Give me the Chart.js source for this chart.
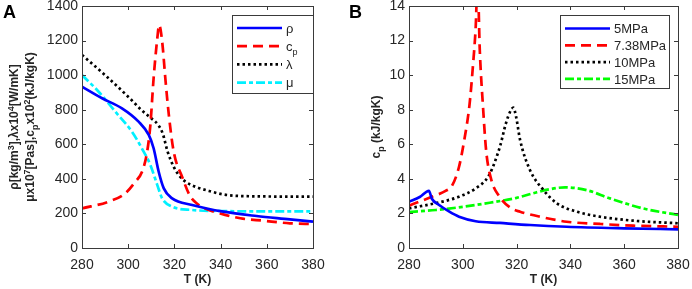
<!DOCTYPE html>
<html><head><meta charset="utf-8">
<script src="https://cdn.jsdelivr.net/npm/chart.js@4.4.1/dist/chart.umd.min.js"></script>
<style>
html,body{margin:0;padding:0;background:#fff;}
#wrap{position:relative;width:692px;height:289px;overflow:hidden;}
canvas{position:absolute;top:0;}
</style></head><body>
<div id="wrap">
<canvas id="a" width="346" height="289" style="left:0"></canvas>
<canvas id="b" width="346" height="289" style="left:346px"></canvas>
</div>
<script>
// ---------- Panel A data ----------
const xTicksA = [280, 300, 320, 340, 360, 380];
const yTicksA = [0, 200, 400, 600, 800, 1000, 1200, 1400];
const rhoT = [280, 288.7, 297.3, 304.5, 308.9, 311, 313.2, 315.4, 319, 327.7, 341.2, 355.6, 370, 380];
const rhoV = [933, 866, 808, 731, 654, 577, 441, 345, 287, 249, 210, 185, 166, 152];
const cpT = [280, 291.5, 298.7, 303.1, 306, 308.2, 309.6, 311, 312.6, 313.4, 314.7, 316.2, 317.6, 319.7, 323.4, 326.8, 330, 332.6, 339.8, 348.5, 358.6, 370, 380];
const cpV = [229, 268, 316, 384, 441, 557, 712, 982, 1213, 1290, 1194, 962, 769, 557, 410, 300, 255, 232, 200, 172, 158, 143, 139];
const lamT = [280, 290, 300, 306, 310, 313, 315, 317, 319.7, 322, 325, 330, 335, 341, 350, 380];
const lamV = [1117, 1000, 875, 795, 750, 712, 660, 560, 470, 420, 382, 350, 330, 310, 300, 297];
const muT = [280, 287.2, 294.4, 301.6, 305.9, 309.6, 312.6, 314.7, 319, 327.6, 340, 360, 380];
const muV = [1001, 904, 789, 673, 577, 480, 364, 287, 239, 220, 214, 212, 212];

// ---------- Panel B data ----------
const xTicksB = [280, 300, 320, 340, 360, 380];
const yTicksB = [0, 2, 4, 6, 8, 10, 12, 14];
const p5T = [280, 284, 287.4, 288.5, 291.2, 295, 298.6, 304.8, 313.8, 325, 338.6, 360, 380];
const p5V = [2.68, 2.95, 3.31, 2.85, 2.49, 2.1, 1.81, 1.55, 1.45, 1.33, 1.23, 1.14, 1.08];
const p738T = [280, 285, 290, 293.6, 296, 298.6, 300.5, 302.5, 303.8, 304.8, 305.5, 306.3, 307.5, 308.7, 310.5, 313.5, 318, 321.3, 328.7, 338.6, 351, 363.4, 380];
const p738V = [2.45, 2.75, 3.05, 3.3, 3.6, 4.7, 6.2, 8.3, 10.6, 12.8, 15.5, 11.5, 8.2, 5.6, 4.0, 3.0, 2.3, 2.1, 1.81, 1.52, 1.39, 1.29, 1.23];
const p10T = [280, 292.4, 298.6, 304.8, 309.7, 313.8, 316, 317.8, 318.8, 319.8, 321.3, 325, 330, 335, 342.4, 351, 363.4, 380];
const p10V = [2.29, 2.68, 2.97, 3.45, 4.2, 5.86, 7.2, 7.95, 8.12, 7.6, 6.25, 4.5, 3.35, 2.58, 2.1, 1.81, 1.58, 1.43];
const p15T = [280, 290, 300, 310, 320, 326, 332, 338, 346, 354.7, 367, 380];
const p15V = [2.08, 2.2, 2.38, 2.62, 2.9, 3.16, 3.39, 3.51, 3.35, 2.87, 2.29, 1.91];

// ---------- helpers ----------
const FONT = '"Liberation Sans", Arial, sans-serif';
const TXT = '#262626';
function pts(T, V) { return T.map((t, i) => ({ x: t, y: V[i] })); }

function drawRich(ctx, segs, cx, cy, size, weight, rot, align) {
  ctx.save();
  ctx.translate(cx, cy);
  if (rot) ctx.rotate(rot);
  const small = Math.round(size * 0.72);
  const f = (m) => weight + ' ' + (m ? small : size) + 'px ' + FONT;
  let w = 0;
  segs.forEach(s => { ctx.font = f(s[1]); w += ctx.measureText(s[0]).width; });
  let x = align === 'left' ? 0 : -w / 2;
  ctx.textBaseline = 'alphabetic';
  ctx.textAlign = 'left';
  ctx.fillStyle = TXT;
  const base = size * 0.36;
  segs.forEach(s => {
    ctx.font = f(s[1]);
    const dy = s[1] === 1 ? -size * 0.4 : (s[1] === -1 ? size * 0.28 : 0);
    ctx.fillText(s[0], x, base + dy);
    x += ctx.measureText(s[0]).width;
  });
  ctx.restore();
}

const decor = {
  id: 'decor',
  afterDraw(chart, args, o) {
    const ctx = chart.ctx, a = chart.chartArea;
    const xs = chart.scales.x, ys = chart.scales.y;
    ctx.save();
    ctx.strokeStyle = '#3a3a3a';
    ctx.lineWidth = 1;
    ctx.setLineDash([]);
    ctx.strokeRect(Math.round(a.left) + 0.5, Math.round(a.top) + 0.5, Math.round(a.right - a.left), Math.round(a.bottom - a.top));
    const L = 4;
    ctx.beginPath();
    xs.ticks.forEach(t => {
      const px = Math.round(xs.getPixelForValue(t.value)) + 0.5;
      ctx.moveTo(px, a.bottom); ctx.lineTo(px, a.bottom - L);
      ctx.moveTo(px, a.top); ctx.lineTo(px, a.top + L);
    });
    ys.ticks.forEach(t => {
      const py = Math.round(ys.getPixelForValue(t.value)) + 0.5;
      ctx.moveTo(a.left, py); ctx.lineTo(a.left + L, py);
      ctx.moveTo(a.right, py); ctx.lineTo(a.right - L, py);
    });
    ctx.stroke();
    ctx.fillStyle = '#000';
    ctx.font = 'bold 18px ' + FONT;
    ctx.textAlign = 'left';
    ctx.textBaseline = 'alphabetic';
    ctx.fillText(o.letter, o.letterX, 18);
    drawRich(ctx, [['T (K)', 0]], (a.left + a.right) / 2, 279, 12, 'bold', 0);
    o.ytitle.forEach(l => drawRich(ctx, l.segs, l.x, (a.top + a.bottom) / 2, 12, 'bold', -Math.PI / 2));
    const lg = o.legend;
    ctx.fillStyle = '#fff';
    ctx.fillRect(lg.x, lg.y, lg.w, lg.h);
    ctx.strokeStyle = '#3a3a3a';
    ctx.lineWidth = 1;
    ctx.setLineDash([]);
    ctx.strokeRect(lg.x + 0.5, lg.y + 0.5, lg.w, lg.h);
    chart.data.datasets.forEach((d, i) => {
      const yy = lg.y + lg.first + i * lg.step;
      ctx.save();
      ctx.strokeStyle = d.borderColor;
      ctx.lineWidth = d.borderWidth;
      ctx.setLineDash(d.borderDash || []);
      ctx.lineCap = 'butt';
      ctx.beginPath();
      ctx.moveTo(lg.x + lg.l0, yy);
      ctx.lineTo(lg.x + lg.l1, yy);
      ctx.stroke();
      ctx.restore();
      drawRich(ctx, lg.labels[i], lg.x + lg.tx, yy, 13, 'normal', 0, 'left');
    });
    ctx.restore();
  }
};

function makeChart(id, datasets, yMax, yStep, pad, yWidth, deco) {
  return new Chart(document.getElementById(id), {
    type: 'line',
    data: { datasets },
    options: {
      responsive: false,
      devicePixelRatio: 1,
      animation: false,
      events: [],
      layout: { padding: pad },
      plugins: { legend: { display: false }, tooltip: { enabled: false }, decor: deco },
      elements: { point: { radius: 0 }, line: { cubicInterpolationMode: 'monotone', borderCapStyle: 'butt' } },
      scales: {
        x: {
          type: 'linear', min: 280, max: 380,
          ticks: { stepSize: 20, color: TXT, font: { family: FONT, size: 14 }, padding: 9, maxRotation: 0, callback: v => String(v) },
          grid: { display: false, drawTicks: false }, border: { display: false },
          afterFit(s) { s.height = 41; s.paddingLeft = 0; s.paddingRight = 0; }
        },
        y: {
          type: 'linear', min: 0, max: yMax,
          ticks: { stepSize: yStep, color: TXT, font: { family: FONT, size: 14 }, padding: 4, callback: v => String(v) },
          grid: { display: false, drawTicks: false }, border: { display: false },
          afterFit(s) { s.width = yWidth; s.paddingTop = 0; s.paddingBottom = 0; }
        }
      }
    },
    plugins: [decor]
  });
}

const W = 2.7;
makeChart('a', [
  { data: pts(rhoT, rhoV), borderColor: '#0000ff', borderWidth: W, clip: 0 },
  { data: pts(cpT, cpV), borderColor: '#ff0000', borderWidth: W, borderDash: [10, 6], clip: 0 },
  { data: pts(lamT, lamV), borderColor: '#000000', borderWidth: W, borderDash: [2.5, 3], clip: 0 },
  { data: pts(muT, muV), borderColor: '#00f0ff', borderWidth: W, borderDash: [9, 3, 4, 3], clip: 0 }
], 1400, 200, { top: 6, right: 33, left: 0, bottom: 0 }, 82, {
  letter: 'A', letterX: 3,
  ytitle: [
    { x: 14, segs: [['ρ[kg/m', 0], ['3', 1], ['],λx10', 0], ['4', 1], ['[W/mK]', 0]] },
    { x: 30, segs: [['μx10', 0], ['7', 1], ['[Pas],c', 0], ['p', -1], ['x10', 0], ['2', 1], ['(kJ/kgK)', 0]] }
  ],
  legend: { x: 232, y: 15, w: 81, h: 78, first: 13, step: 18.2, l0: 5, l1: 50, tx: 54,
    labels: [[['ρ', 0]], [['c', 0], ['p', -1]], [['λ', 0]], [['μ', 0]]] }
});

makeChart('b', [
  { data: pts(p5T, p5V), borderColor: '#0000ff', borderWidth: W, clip: 0 },
  { data: pts(p738T, p738V), borderColor: '#ff0000', borderWidth: W, borderDash: [10, 6], clip: 0 },
  { data: pts(p10T, p10V), borderColor: '#000000', borderWidth: W, borderDash: [2.5, 3], clip: 0 },
  { data: pts(p15T, p15V), borderColor: '#00ff00', borderWidth: W, borderDash: [9, 3, 4, 3], clip: 0 }
], 14, 2, { top: 6, right: 14, left: 0, bottom: 0 }, 63, {
  letter: 'B', letterX: 3,
  ytitle: [
    { x: 30, segs: [['c', 0], ['p', -1], [' (kJ/kgK)', 0]] }
  ],
  legend: { x: 214, y: 15, w: 109, h: 73, first: 13.5, step: 16.8, l0: 5, l1: 50, tx: 54,
    labels: [[['5MPa', 0]], [['7.38MPa', 0]], [['10MPa', 0]], [['15MPa', 0]]] }
});
</script>
</body></html>
